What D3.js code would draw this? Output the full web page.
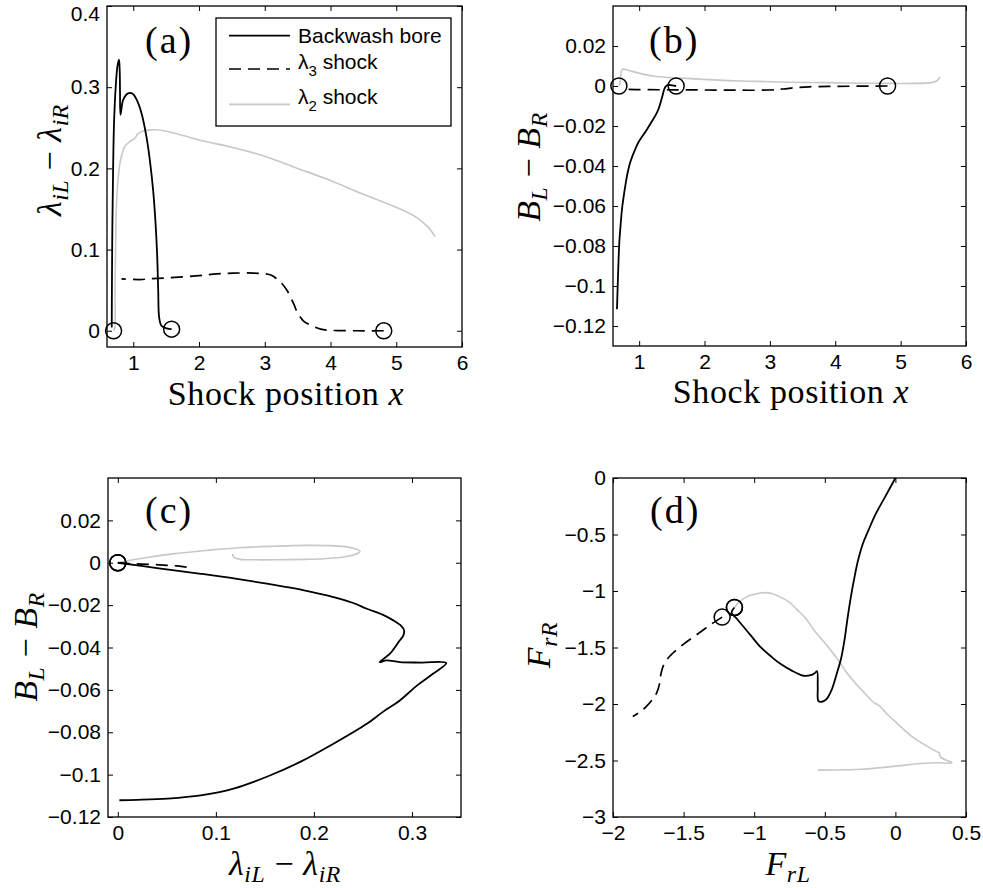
<!DOCTYPE html>
<html><head><meta charset="utf-8">
<script src="https://cdn.jsdelivr.net/npm/d3@7"></script>
<style>
body{margin:0;background:#fff;}
svg{display:block;}
</style></head><body>
<svg id="chart" width="983" height="888"></svg>
<script>
// ---------------- data ----------------
const xTicksShock = [1, 2, 3, 4, 5, 6];
const xLabelsShock = ["1", "2", "3", "4", "5", "6"];
const yTicksA = [0, 0.1, 0.2, 0.3, 0.4];
const yLabelsA = ["0", "0.1", "0.2", "0.3", "0.4"];
const yTicksB = [-0.12, -0.1, -0.08, -0.06, -0.04, -0.02, 0, 0.02];
const yLabelsB = ["−0.12", "−0.1", "−0.08", "−0.06", "−0.04", "−0.02", "0", "0.02"];
const xTicksC = [0, 0.1, 0.2, 0.3];
const xLabelsC = ["0", "0.1", "0.2", "0.3"];
const xTicksD = [-2, -1.5, -1, -0.5, 0, 0.5];
const xLabelsD = ["−2", "−1.5", "−1", "−0.5", "0", "0.5"];
const yTicksD = [-3, -2.5, -2, -1.5, -1, -0.5, 0];
const yLabelsD = ["−3", "−2.5", "−2", "−1.5", "−1", "−0.5", "0"];

const legendNames = ["Backwash bore", "λ|3| shock", "λ|2| shock"];

// (a) shock position x  vs  lambda_iL - lambda_iR   (first point = start marker)
const boreA = [[1.583,0.002],[1.507,0.003],[1.43,0.006],[1.394,0.016],[1.379,0.05],[1.364,0.091],[1.339,0.132],[1.302,0.173],[1.252,0.21],[1.2,0.239],[1.125,0.268],[1.049,0.285],[0.99,0.292],[0.947,0.293],[0.896,0.291],[0.844,0.284],[0.805,0.266],[0.798,0.293],[0.794,0.318],[0.783,0.334],[0.759,0.326],[0.733,0.301],[0.707,0.256],[0.692,0.194],[0.682,0.132],[0.676,0.07],[0.672,0.004]];
const lam3A = [[4.81,0],[4.4,0],[4.0,0.0005],[3.85,0.002],[3.72,0.006],[3.59,0.012],[3.5,0.022],[3.44,0.033],[3.34,0.0495],[3.24,0.06],[3.15,0.066],[3.08,0.069],[2.83,0.071],[2.52,0.071],[2.27,0.070],[2.0,0.068],[1.5,0.065],[1.25,0.064],[1.1,0.063],[0.82,0.064]];
const lam2A = [[0.70,0],[0.718,0.004],[0.722,0.05],[0.733,0.111],[0.743,0.153],[0.768,0.186],[0.805,0.21],[0.87,0.227],[0.947,0.233],[0.988,0.235],[1.023,0.237],[1.073,0.243],[1.175,0.2467],[1.3,0.2475],[1.35,0.2475],[1.6,0.244],[2.0,0.235],[2.5,0.226],[3.0,0.215],[3.5,0.2],[4.0,0.185],[4.5,0.168],[5.0,0.152],[5.3,0.14],[5.48,0.128],[5.59,0.116]];

// (b) shock position x  vs  B_L - B_R
const boreB = [[1.566,0],[1.5,0.0003],[1.45,0.0005],[1.42,0.0003],[1.4,-0.0005],[1.38,-0.002],[1.36,-0.0045],[1.33,-0.008],[1.29,-0.012],[1.25,-0.0147],[1.17,-0.019],[1.095,-0.023],[1.0,-0.0275],[0.942,-0.0314],[0.865,-0.038],[0.82,-0.044],[0.789,-0.0498],[0.76,-0.056],[0.738,-0.0615],[0.715,-0.07],[0.697,-0.078],[0.685,-0.087],[0.677,-0.0949],[0.668,-0.104],[0.661,-0.1116]];
const lam3B = [[4.8,0],[4.3,-0.0001],[3.9,-0.0002],[3.6,-0.0004],[3.4,-0.0008],[3.2,-0.0015],[3.0,-0.002],[2.5,-0.0021],[2.0,-0.002],[1.5,-0.0019],[1.0,-0.0018],[0.815,-0.0017]];
const lam2B = [[0.69,0],[0.71,0.002],[0.725,0.007],[0.745,0.0085],[0.78,0.0083],[0.84,0.0078],[1.02,0.0062],[1.3,0.0046],[1.785,0.0037],[2.3,0.0028],[2.81,0.0023],[3.3,0.0019],[3.83,0.0017],[4.35,0.0014],[4.85,0.0013],[5.2,0.0013],[5.47,0.0017],[5.55,0.0025],[5.6,0.0045]];

// (c) lambda_iL - lambda_iR  vs  B_L - B_R
const boreC = [[0,0],[0.04,-0.0025],[0.0846,-0.0052],[0.12,-0.0075],[0.152,-0.0099],[0.19,-0.013],[0.22,-0.0162],[0.24,-0.019],[0.254,-0.0217],[0.27,-0.0245],[0.281,-0.0272],[0.289,-0.0298],[0.292,-0.032],[0.291,-0.0345],[0.287,-0.037],[0.2775,-0.0429],[0.267,-0.0469],[0.274,-0.0461],[0.2876,-0.0469],[0.31,-0.0471],[0.335,-0.0473],[0.3214,-0.0524],[0.305,-0.058],[0.2876,-0.065],[0.27,-0.0705],[0.254,-0.076],[0.22,-0.0854],[0.186,-0.094],[0.152,-0.101],[0.118,-0.1066],[0.0846,-0.1098],[0.0508,-0.1113],[0.02,-0.1119],[0.0016,-0.1121]];
const lam3C = [[0,0],[0.002,-0.0001],[0.012,-0.0004],[0.033,-0.0008],[0.05,-0.0012],[0.06,-0.0015],[0.069,-0.002],[0.071,-0.0021],[0.068,-0.002],[0.064,-0.0018]];
const lam2C = [[0,0],[0.0084,0.0008],[0.03,0.0025],[0.056,0.0042],[0.09,0.0058],[0.1235,0.0071],[0.16,0.0078],[0.191,0.0082],[0.215,0.0081],[0.232,0.0076],[0.24,0.0068],[0.247,0.0055],[0.245,0.0045],[0.232,0.0028],[0.21,0.0019],[0.191,0.0016],[0.16,0.0014],[0.14,0.0014],[0.125,0.0016],[0.119,0.0024],[0.1167,0.0042]];

// (d) F_rL  vs  F_rR
const boreD = [[-1.14,-1.146],[-1.16,-1.19],[-1.12,-1.25],[-1.08,-1.31],[-1.02,-1.40],[-0.96,-1.49],[-0.88,-1.58],[-0.82,-1.64],[-0.74,-1.70],[-0.65,-1.75],[-0.60,-1.745],[-0.57,-1.725],[-0.555,-1.71],[-0.55,-1.85],[-0.545,-1.975],[-0.52,-1.98],[-0.49,-1.96],[-0.45,-1.87],[-0.415,-1.73],[-0.385,-1.6],[-0.36,-1.43],[-0.34,-1.25],[-0.315,-1.05],[-0.29,-0.88],[-0.265,-0.73],[-0.23,-0.58],[-0.19,-0.46],[-0.14,-0.32],[-0.07,-0.16],[0,0]];
const lam3D = [[-1.227,-1.231],[-1.3,-1.29],[-1.4,-1.38],[-1.5,-1.47],[-1.6,-1.58],[-1.64,-1.65],[-1.66,-1.73],[-1.67,-1.82],[-1.69,-1.9],[-1.72,-1.96],[-1.77,-2.03],[-1.82,-2.08],[-1.86,-2.11]];
const lam2D = [[-1.14,-1.146],[-1.1,-1.09],[-1.05,-1.05],[-1.0,-1.03],[-0.94,-1.015],[-0.88,-1.02],[-0.82,-1.05],[-0.75,-1.1],[-0.7,-1.16],[-0.63,-1.25],[-0.58,-1.34],[-0.52,-1.43],[-0.46,-1.52],[-0.4,-1.62],[-0.34,-1.73],[-0.28,-1.82],[-0.22,-1.9],[-0.15,-1.99],[-0.12,-2.01],[-0.05,-2.1],[0.02,-2.18],[0.13,-2.3],[0.22,-2.37],[0.29,-2.42],[0.31,-2.43],[0.32,-2.47],[0.4,-2.52],[0.3,-2.52],[0.2,-2.525],[0.0,-2.55],[-0.25,-2.578],[-0.55,-2.585]];

// ---------------- drawing ----------------
const svg = d3.select("#chart");
const SANS = "'Liberation Sans', Arial, Helvetica, sans-serif";
const SERIF = "'Liberation Serif', 'Times New Roman', serif";
const GRAY = "#c8c8c8";
const TICKFONT = 21;

function mathText(sel, parts, size) {
  let shifted = 0;
  parts.forEach(p => {
    const sub = p.sub || false;
    const t = sel.append("tspan").text(p.t)
      .attr("font-style", p.it ? "italic" : "normal")
      .attr("font-size", sub ? size * 0.7 : size);
    const want = sub ? size * 0.22 : 0;
    if (want !== shifted) { t.attr("dy", want - shifted); shifted = want; }
  });
}

function panel(cfg) {
  const g = svg.append("g");
  const x = d3.scaleLinear().domain(cfg.xd).range([cfg.l, cfg.r]);
  const y = d3.scaleLinear().domain(cfg.yd).range([cfg.b, cfg.t]);
  const tk = 5;
  const styleAxis = a => {
    a.select(".domain").remove();
    a.selectAll("line").attr("stroke", "#000").attr("stroke-width", 1);
    a.selectAll("text").attr("fill", "#000").attr("font-size", TICKFONT).attr("font-family", SANS);
    a.attr("font-size", TICKFONT).attr("font-family", SANS);
  };
  g.append("g").attr("transform", `translate(0,${cfg.b})`)
    .call(d3.axisBottom(x).tickValues(cfg.xt).tickFormat((d, i) => cfg.xl[i]).tickSizeInner(-tk).tickSizeOuter(0).tickPadding(8))
    .call(styleAxis);
  g.append("g").attr("transform", `translate(0,${cfg.t})`)
    .call(d3.axisTop(x).tickValues(cfg.xt).tickFormat("").tickSizeInner(-tk).tickSizeOuter(0))
    .call(styleAxis);
  const left = g.append("g").attr("transform", `translate(${cfg.l},0)`)
    .call(d3.axisLeft(y).tickValues(cfg.yt).tickFormat((d, i) => cfg.yl[i]).tickSizeInner(-tk).tickSizeOuter(0).tickPadding(7))
    .call(styleAxis);
  // keep a label sitting on the very top edge of the page fully visible
  left.selectAll(".tick").each(function(d) {
    const ty = y(d);
    if (ty < 14) d3.select(this).select("text").attr("y", 14 - ty);
  });
  g.append("g").attr("transform", `translate(${cfg.r},0)`)
    .call(d3.axisRight(y).tickValues(cfg.yt).tickFormat("").tickSizeInner(-tk).tickSizeOuter(0))
    .call(styleAxis);
  g.append("rect").attr("x", cfg.l).attr("y", cfg.t).attr("width", cfg.r - cfg.l).attr("height", cfg.b - cfg.t)
    .attr("fill", "none").attr("stroke", "#000").attr("stroke-width", 1.3);

  const line = d3.line().x(d => x(d[0])).y(d => y(d[1])).curve(d3.curveCatmullRom.alpha(0.5));
  g.append("path").datum(cfg.gray).attr("d", line).attr("fill", "none").attr("stroke", GRAY).attr("stroke-width", 1.6);
  g.append("path").datum(cfg.dash).attr("d", line).attr("fill", "none").attr("stroke", "#000").attr("stroke-width", 1.7).attr("stroke-dasharray", "12,7");
  g.append("path").datum(cfg.bore).attr("d", line).attr("fill", "none").attr("stroke", "#000").attr("stroke-width", 1.8);
  [cfg.gray, cfg.dash, cfg.bore].forEach(s => {
    g.append("circle").attr("cx", x(s[0][0])).attr("cy", y(s[0][1])).attr("r", 8)
      .attr("fill", "none").attr("stroke", "#000").attr("stroke-width", 1.5);
  });

  g.append("text").attr("x", cfg.tag[0]).attr("y", cfg.tag[1]).attr("font-family", SERIF).attr("font-size", 38)
    .attr("letter-spacing", 2).text(cfg.tagText);

  const xl = g.append("text").attr("x", cfg.xlab[0]).attr("y", cfg.xlab[1]).attr("text-anchor", "middle")
    .attr("font-family", SERIF).attr("fill", "#000").attr("letter-spacing", 0.6);
  mathText(xl, cfg.xParts, 34);
  const yl = g.append("text").attr("transform", `translate(${cfg.ylab[0]},${cfg.ylab[1]}) rotate(-90)`)
    .attr("text-anchor", "middle").attr("font-family", SERIF).attr("fill", "#000").attr("letter-spacing", 0.6);
  mathText(yl, cfg.yParts, 34);
  return g;
}

const shockParts = [{t: "Shock position "}, {t: "x", it: true}];
const lamParts = [{t: "λ", it: true}, {t: "iL", it: true, sub: true}, {t: " − "}, {t: "λ", it: true}, {t: "iR", it: true, sub: true}];
const bParts = [{t: "B", it: true}, {t: "L", it: true, sub: true}, {t: " − "}, {t: "B", it: true}, {t: "R", it: true, sub: true}];

panel({l: 107, r: 462, t: 6, b: 347, xd: [0.6, 6], yd: [-0.02, 0.4], xt: xTicksShock, xl: xLabelsShock, yt: yTicksA, yl: yLabelsA,
  bore: boreA, dash: lam3A, gray: lam2A, tag: [145, 53], tagText: "(a)", xlab: [286, 405], xParts: shockParts, ylab: [61, 160], yParts: lamParts});
panel({l: 613, r: 966, t: 6, b: 346, xd: [0.6, 6], yd: [-0.13, 0.04], xt: xTicksShock, xl: xLabelsShock, yt: yTicksB, yl: yLabelsB,
  bore: boreB, dash: lam3B, gray: lam2B, tag: [649, 53], tagText: "(b)", xlab: [791, 403], xParts: shockParts, ylab: [540, 167], yParts: bParts});
panel({l: 108, r: 461, t: 478, b: 817, xd: [-0.01, 0.35], yd: [-0.12, 0.04], xt: xTicksC, xl: xLabelsC, yt: yTicksB, yl: yLabelsB,
  bore: boreC, dash: lam3C, gray: lam2C, tag: [145, 523], tagText: "(c)", xlab: [285, 875], xParts: lamParts, ylab: [37, 647], yParts: bParts});
panel({l: 613, r: 966, t: 478, b: 817, xd: [-2, 0.5], yd: [-3, 0], xt: xTicksD, xl: xLabelsD, yt: yTicksD, yl: yLabelsD,
  bore: boreD, dash: lam3D, gray: lam2D, tag: [650, 523], tagText: "(d)", xlab: [788, 875], xParts: [{t: "F", it: true}, {t: "rL", it: true, sub: true}], ylab: [550, 645], yParts: [{t: "F", it: true}, {t: "rR", it: true, sub: true}]});

// legend in panel (a)
const lg = svg.append("g");
lg.append("rect").attr("x", 216).attr("y", 18).attr("width", 235).attr("height", 108)
  .attr("fill", "#fff").attr("stroke", "#000").attr("stroke-width", 1.3);
const legStyles = [{stroke: "#000", dash: null, ly: 35.7, ty: 43}, {stroke: "#000", dash: "12,7", ly: 69, ty: 68.5}, {stroke: GRAY, dash: null, ly: 104.3, ty: 103.5}];
legendNames.forEach((name, i) => {
  const s = legStyles[i];
  lg.append("line").attr("x1", 229).attr("x2", 290).attr("y1", s.ly).attr("y2", s.ly)
    .attr("stroke", s.stroke).attr("stroke-width", 1.7).attr("stroke-dasharray", s.dash);
  const t = lg.append("text").attr("x", 298).attr("y", s.ty).attr("font-family", SANS).attr("font-size", 21).attr("fill", "#000");
  const bits = name.split("|");
  if (bits.length === 1) t.text(name);
  else {
    t.append("tspan").text(bits[0]);
    t.append("tspan").text(bits[1]).attr("font-size", 15).attr("dy", 7);
    t.append("tspan").text(bits[2]).attr("dy", -7);
  }
});
</script>
</body></html>
